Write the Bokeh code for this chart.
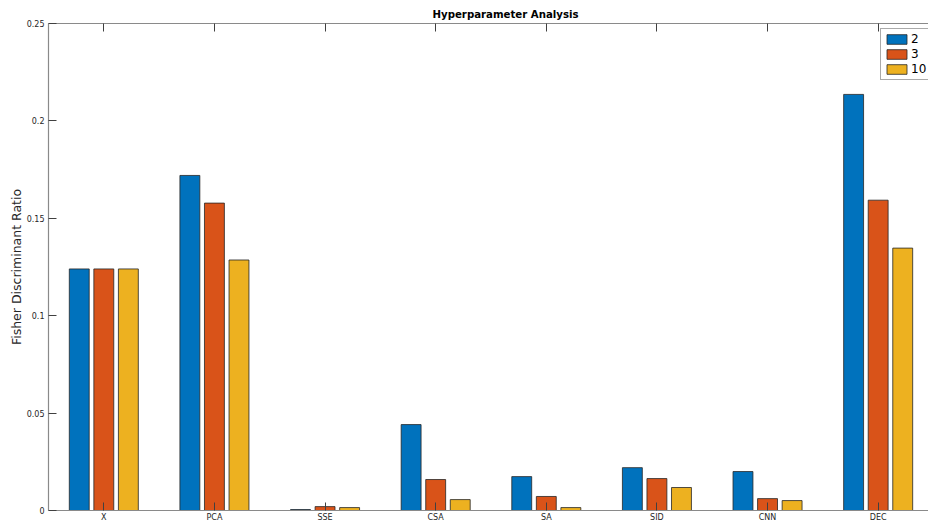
from bokeh.plotting import figure
from bokeh.models import ColumnDataSource, FixedTicker, LinearAxis, Range1d, Legend, LegendItem
from bokeh.transform import dodge
from bokeh.embed import file_html
from bokeh.resources import INLINE

categories = ["X", "PCA", "SSE", "CSA", "SA", "SID", "CNN", "DEC"]
series_names = ["2", "3", "10"]
vals_2 = [0.124, 0.172, 0.0005, 0.0441, 0.0174, 0.0220, 0.0200, 0.2136]
vals_3 = [0.124, 0.1578, 0.0020, 0.0159, 0.0072, 0.0164, 0.0061, 0.1593]
vals_10 = [0.124, 0.1286, 0.0015, 0.0056, 0.0015, 0.0118, 0.0051, 0.1347]
y_ticks = [0, 0.05, 0.1, 0.15, 0.2, 0.25]
colors = ["#0072BD", "#D95319", "#EDB120"]

pos = [i + 1 for i in range(len(categories))]
src = ColumnDataSource(dict(x=pos, v2=vals_2, v3=vals_3, v10=vals_10))

FONT = "DejaVu Sans"
p = figure(width=928, height=524, output_backend="svg", toolbar_location=None,
           x_range=Range1d(0.5, 8.455), y_range=Range1d(0, 0.25),
           min_border_left=48, min_border_right=0, min_border_top=23, min_border_bottom=13,
           title="Hyperparameter Analysis")
p.title.align = "left"
p.title.offset = 384
p.title.text_font = FONT
p.title.text_font_size = "10.2px"
p.title.text_font_style = "bold"
p.title.text_color = "#000000"
p.title.standoff = 8
p.outline_line_color = None
p.xgrid.visible = False
p.ygrid.visible = False
p.background_fill_color = "white"
p.border_fill_color = "white"

offsets = [-0.222, 0.0, 0.222]
keys = ["v2", "v3", "v10"]
renderers = []
for k, off, c in zip(keys, offsets, colors):
    r = p.vbar(x=dodge("x", off), top=k, width=0.18, source=src,
               fill_color=c, line_color="#262626", line_width=0.8)
    renderers.append(r)

tick_col = "#404040"
ax_col = "#8a8a8a"

xa = p.xaxis[0]
xa.ticker = FixedTicker(ticks=pos)
xa.major_label_overrides = {pp: c for pp, c in zip(pos, categories)}
xa.major_tick_in = 8
xa.major_tick_out = 0
xa.minor_tick_line_color = None
xa.major_tick_line_color = tick_col
xa.axis_line_color = ax_col
xa.axis_line_width = 1.2
xa.major_label_text_font = FONT
xa.major_label_text_font_size = "8px"
xa.major_label_text_color = "#262626"
xa.major_label_standoff = 2

ya = p.yaxis[0]
ya.ticker = FixedTicker(ticks=y_ticks)
ya.major_label_overrides = {0: "0", 0.05: "0.05", 0.1: "0.1", 0.15: "0.15", 0.2: "0.2", 0.25: "0.25"}
ya.major_tick_in = 8
ya.major_tick_out = 0
ya.minor_tick_line_color = None
ya.major_tick_line_color = tick_col
ya.axis_line_color = ax_col
ya.axis_line_width = 1.2
ya.major_label_text_font = FONT
ya.major_label_text_font_size = "8px"
ya.major_label_text_color = "#262626"
ya.major_label_standoff = 4
ya.axis_label = "Fisher Discriminant Ratio"
ya.axis_label_text_font = FONT
ya.axis_label_text_font_size = "12.5px"
ya.axis_label_text_font_style = "normal"
ya.axis_label_text_color = "#262626"
ya.axis_label_standoff = 0

top_ax = LinearAxis(ticker=FixedTicker(ticks=pos), major_label_overrides={pp: "" for pp in pos},
                    major_tick_in=8, major_tick_out=0, minor_tick_line_color=None,
                    major_tick_line_color=tick_col, axis_line_color=ax_col,
                    axis_line_width=1.2, major_label_standoff=0)
p.add_layout(top_ax, "above")

legend = Legend(items=[LegendItem(label=n, renderers=[r]) for n, r in zip(series_names, renderers)],
                location="top_right")
legend.margin = 0
legend.padding = 3
legend.spacing = 1
legend.glyph_width = 25
legend.glyph_height = 12
legend.label_height = 13
legend.label_standoff = 2
legend.label_text_font = FONT
legend.label_text_font_size = "12px"
legend.label_text_color = "#000000"
legend.border_line_color = "#555555"
legend.border_line_width = 1
legend.background_fill_alpha = 1
legend.location = (832, 430)
p.add_layout(legend)

open("out.html", "w").write(file_html(p, INLINE))
